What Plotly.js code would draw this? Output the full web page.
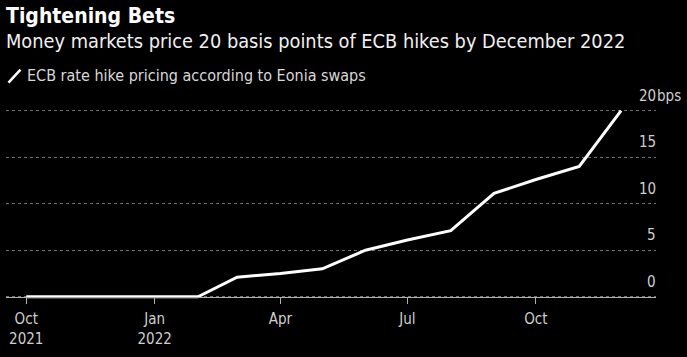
<!DOCTYPE html>
<html>
<head>
<meta charset="utf-8">
<script src="https://cdn.plot.ly/plotly-3.0.1.min.js"></script>
<style>
html,body{margin:0;padding:0;background:#000;}
#chart{width:687px;height:357px;}
</style>
</head>
<body>
<div id="chart"></div>
<script>
// ---- Data ----
var dates = ['2021-10-01','2021-11-01','2021-12-01','2022-01-01','2022-02-01','2022-03-01','2022-04-01','2022-05-01','2022-06-01','2022-07-01','2022-08-01','2022-09-01','2022-10-01','2022-11-01','2022-12-01'];
var hikeBps = [0,0,0,0,0,2.1,2.5,3.0,5.0,6.1,7.1,11.1,12.6,14.0,20.0];
var seriesName = 'ECB rate hike pricing according to Eonia swaps';
var xTickVals = ['2021-10-01','2022-01-01','2022-04-01','2022-07-01','2022-10-01'];
var xTickText = ['Oct<br>2021','Jan<br>2022','Apr','Jul','Oct'];
var yTickVals = [0,5,10,15,20];
var yTickText = ['0','5','10','15','20'];
var ySuffix = 'bps';
var titleText = 'Tightening Bets';
var subtitleText = 'Money markets price 20 basis points of ECB hikes by December 2022';

var FONT = '"DejaVu Sans Condensed", "DejaVu Sans", sans-serif';
var yLo = -0.35, yHi = 20.6;
var T = 105.4; // top margin (px)

var trace = {
  x: dates, y: hikeBps, type: 'scatter', mode: 'lines', name: seriesName,
  line: {color: '#ffffff', width: 3}, showlegend: false
};

var annotations = [
  {xref:'paper', yref:'paper', x:-0.003, y:1, xanchor:'left', yanchor:'middle', yshift: T-16,
   text:'<b>'+titleText+'</b>', showarrow:false, font:{family:FONT, size:21, color:'#ffffff'}},
  {xref:'paper', yref:'paper', x:-0.003, y:1, xanchor:'left', yanchor:'middle', yshift: T-42,
   text:subtitleText, showarrow:false, font:{family:FONT, size:19.8, color:'#f0f0f0'}},
  {xref:'paper', yref:'paper', x:0.029, y:1, xanchor:'left', yanchor:'middle', yshift: T-76,
   text:seriesName, showarrow:false, font:{family:FONT, size:16, color:'#d8d8d8'}}
];
for (var i = 0; i < yTickVals.length; i++) {
  annotations.push({xref:'paper', yref:'y', x:1, y:yTickVals[i], xanchor:'right', yanchor:'middle',
    yshift:15, xshift:2, text:yTickText[i], showarrow:false, font:{family:FONT, size:15, color:'#cfcfcf'}});
}
annotations.push({xref:'paper', yref:'y', x:1, y:yTickVals[yTickVals.length-1], xanchor:'left', yanchor:'middle',
  yshift:15, xshift:-1, text:ySuffix, showarrow:false, font:{family:FONT, size:15, color:'#cfcfcf'}});

var layout = {
  width: 687, height: 357,
  paper_bgcolor: '#000000', plot_bgcolor: '#000000',
  margin: {l: 6, r: 31, t: T, b: 56.75},
  font: {family: FONT, color: '#cfcfcf', size: 15},
  showlegend: false,
  xaxis: {
    type: 'date', range: ['2021-09-16 12:00', '2022-12-26'],
    tickvals: xTickVals, ticktext: xTickText,
    anchor: 'free', position: (0 - yLo) / (yHi - yLo),
    showgrid: false, zeroline: false,
    showline: true, linecolor: '#b0b0b0', linewidth: 1.5,
    ticks: 'outside', ticklen: 6, tickcolor: '#b0b0b0', tickwidth: 1,
    ticklabelstandoff: 2,
    tickfont: {family: FONT, size: 15, color: '#cfcfcf'}
  },
  yaxis: {
    range: [yLo, yHi], side: 'right',
    tickvals: yTickVals, showticklabels: false,
    showgrid: true, gridcolor: '#707070', gridwidth: 1, griddash: 'dot',
    zeroline: false, showline: false, ticks: ''
  },
  annotations: annotations,
  // legend icon: a slanted stroke beside the legend text (pixel offsets from the plot's top-left)
  shapes: [{type:'line', xref:'x domain', yref:'y domain', xsizemode:'pixel', ysizemode:'pixel',
    xanchor: 0, yanchor: 1, x0: 2.5, x1: 14.5, y0: T-83, y1: T-70, line:{color:'#ffffff', width:2.5}}]
};

Plotly.newPlot('chart', [trace], layout, {displayModeBar: false, staticPlot: true});
</script>
</body>
</html>
